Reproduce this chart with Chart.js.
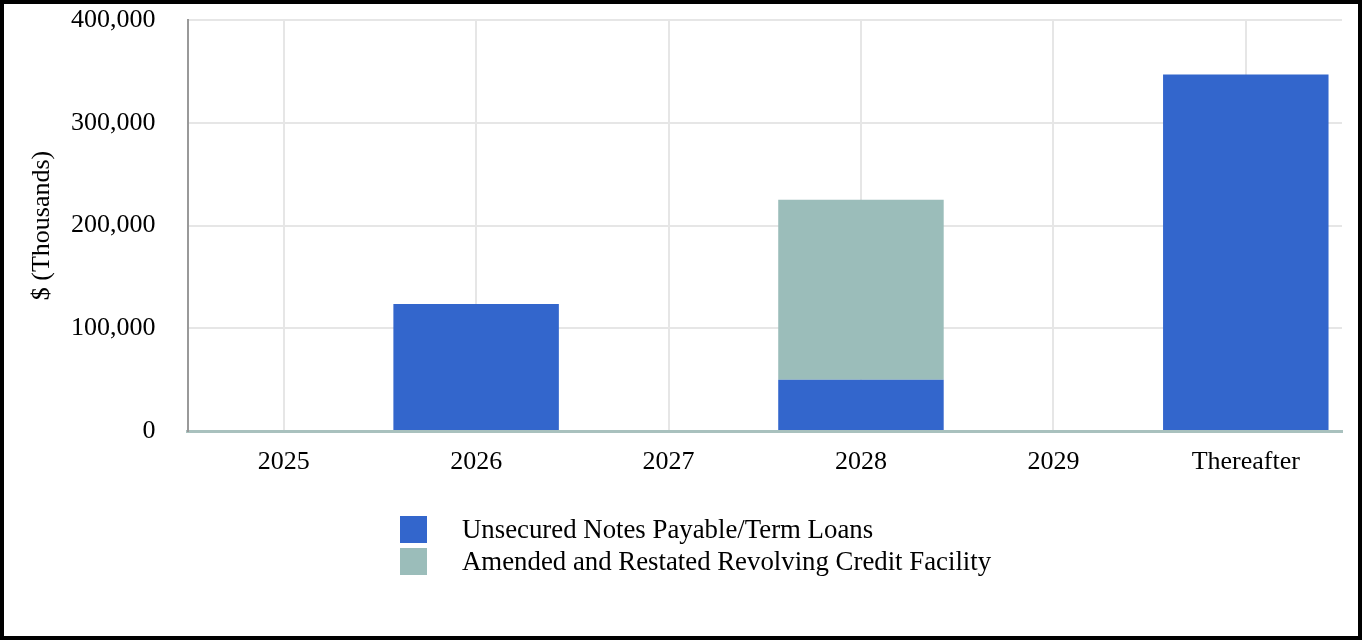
<!DOCTYPE html>
<html>
<head>
<meta charset="utf-8">
<script src="https://cdn.jsdelivr.net/npm/chart.js@4.4.1/dist/chart.umd.min.js"></script>
<style>
  html, body { margin: 0; padding: 0; background: #fff; }
  #wrap {
    width: 1362px; height: 640px;
    box-sizing: border-box;
    border: 4px solid #000;
    position: relative;
  }
  #chart { display: block; }
</style>
</head>
<body>
<div id="wrap"><canvas id="chart" width="1354" height="632"></canvas></div>
<script>
// ---- data ----
const years = ['2025', '2026', '2027', '2028', '2029', 'Thereafter'];
const notesTermLoans = [0, 123600, 0, 50000, 0, 347000];
const revolvingFacility = [0, 0, 0, 175000, 0, 0];
const yTicks = [0, 100000, 200000, 300000, 400000];

const seriesNames = ['Unsecured Notes Payable/Term Loans', 'Amended and Restated Revolving Credit Facility'];
const seriesColors = ['#3366CC', '#9BBDBA'];

const FONT = "'Liberation Serif', 'Times New Roman', serif";

// legend drawn as a stacked list under the chart
const stackedLegend = {
  id: 'stackedLegend',
  afterDraw(chart) {
    const ctx = chart.ctx;
    const x0 = 396, y0 = 512, box = 27, rowH = 32, textX = 458;
    ctx.save();
    ctx.font = '26.8px ' + FONT;
    ctx.textBaseline = 'middle';
    ctx.textAlign = 'left';
    chart.data.datasets.forEach((ds, i) => {
      const y = y0 + i * rowH;
      ctx.fillStyle = ds.backgroundColor;
      ctx.fillRect(x0, y, box, box);
      ctx.fillStyle = '#000';
      ctx.fillText(ds.label, textX, y + box / 2 + 1);
    });
    ctx.restore();
  }
};

new Chart(document.getElementById('chart'), {
  type: 'bar',
  data: {
    labels: years,
    datasets: [
      { label: seriesNames[0], data: notesTermLoans, backgroundColor: seriesColors[0], borderWidth: 0 },
      { label: seriesNames[1], data: revolvingFacility, backgroundColor: seriesColors[1], borderWidth: 0 }
    ]
  },
  options: {
    responsive: false,
    animation: false,
    events: [],
    layout: { padding: { top: 16, right: 16, bottom: 145, left: 0 } },
    datasets: { bar: { barPercentage: 0.86, categoryPercentage: 1 } },
    plugins: {
      legend: { display: false },
      tooltip: { enabled: false }
    },
    scales: {
      x: {
        stacked: true,
        grid: { offset: false, color: '#E6E6E6', lineWidth: 2, drawTicks: false },
        border: { color: '#A9C1BE', width: 3 },
        ticks: { color: '#000', padding: 16, font: { family: FONT, size: 26 } },
        afterFit: s => { s.height = 60; s.paddingLeft = 0; s.paddingRight = 0; }
      },
      y: {
        stacked: true,
        min: yTicks[0],
        max: yTicks[yTicks.length - 1],
        afterBuildTicks: s => { s.ticks = yTicks.map(v => ({ value: v })); },
        grid: { color: '#E6E6E6', lineWidth: 2, drawTicks: false },
        border: { color: '#999', width: 2 },
        ticks: {
          color: '#000',
          padding: 32,
          font: { family: FONT, size: 26 },
          callback: v => Number(v).toLocaleString('en-US')
        },
        title: {
          display: true,
          text: '$ (Thousands)',
          color: '#000',
          font: { family: FONT, size: 26, lineHeight: 1 },
          padding: { top: 25, bottom: 0 }
        },
        afterFit: s => { s.width = 183.5; s.paddingTop = 0; s.paddingBottom = 0; }
      }
    }
  },
  plugins: [stackedLegend]
});
</script>
</body>
</html>
